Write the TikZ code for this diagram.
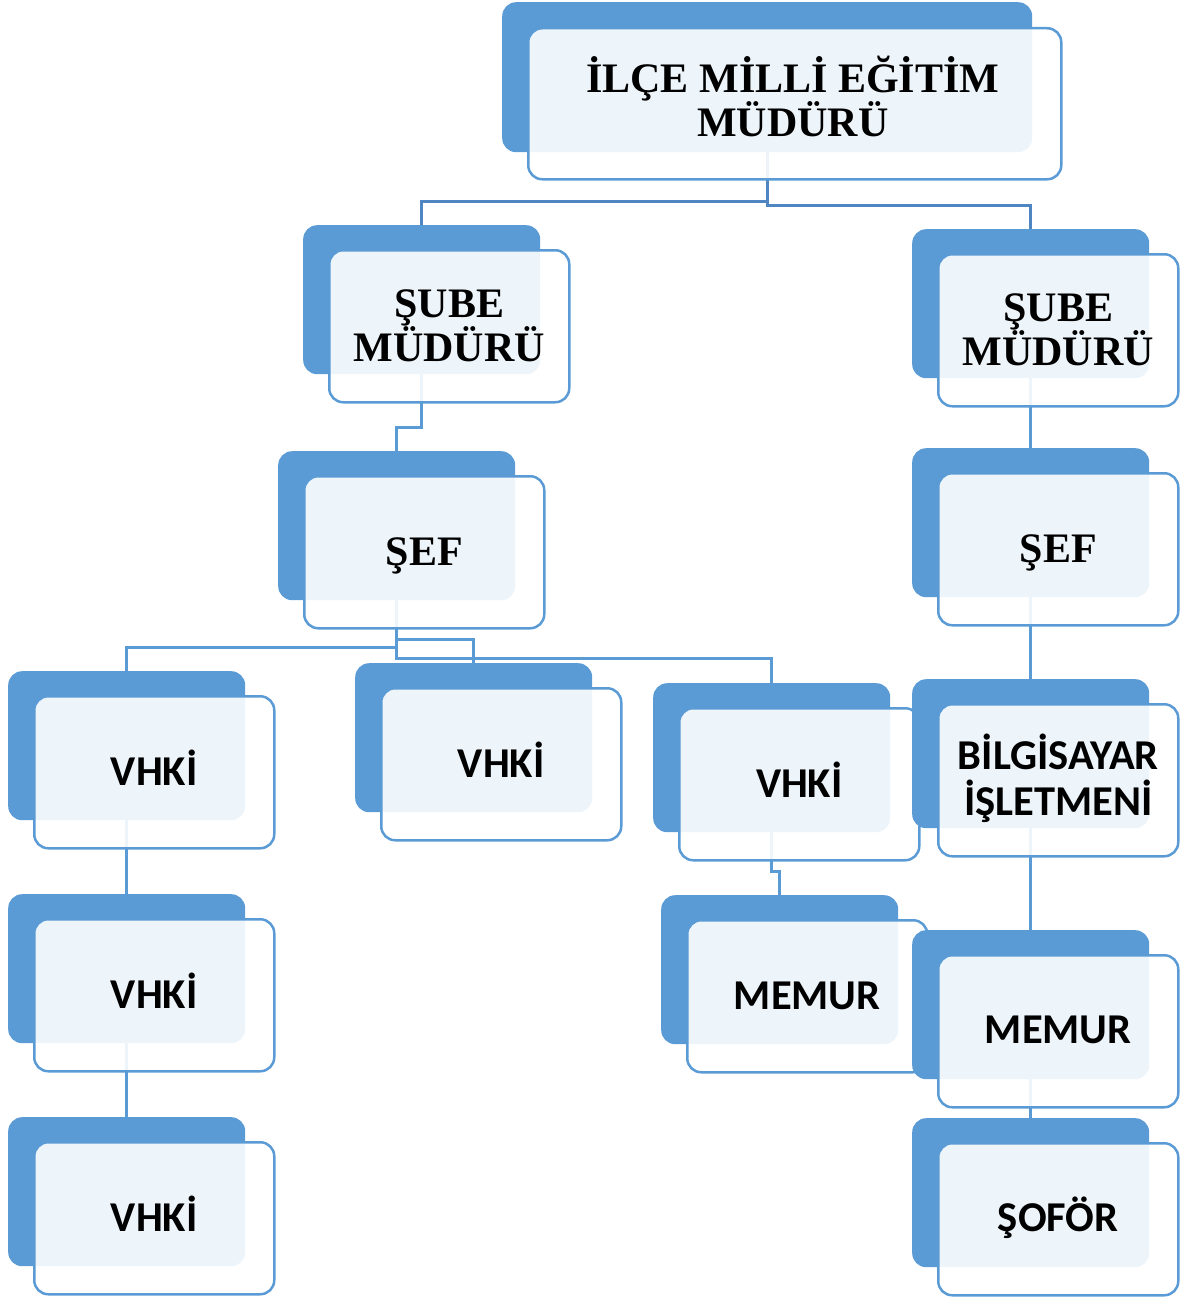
\documentclass[tikz,border=0pt]{standalone}
\usepackage{fontspec}
\newfontfamily\serifbf{Liberation Serif}
\newfontfamily\sansbf{Carlito}
\definecolor{myblue}{HTML}{5B9BD5}
\definecolor{lineblue}{HTML}{5B9BD5}
\definecolor{topline}{HTML}{4F86C2}
\pgfdeclarelayer{bg}
\pgfsetlayers{bg,main}
\tikzset{
  bluebox/.style={fill=myblue, rounded corners=14pt, minimum width=237pt, minimum height=149pt, anchor=north west, inner sep=0pt},
  frontbox/.style={draw=myblue, line width=2.5pt, fill=white, fill opacity=0.9, rounded corners=14pt, minimum width=240pt, minimum height=152pt, anchor=north west, inner sep=0pt},
  conn/.style={draw=lineblue, line width=3.2pt},
  serifstyle/.style={font=\serifbf\bfseries\fontsize{42}{44}\selectfont, align=center, inner sep=0pt},
  sansstyle/.style={font=\sansbf\bfseries\fontsize{42.5}{46}\selectfont, align=center, inner sep=0pt},
  oneline/.style={text height=27pt, text depth=0pt}
}
% name, x, y, text style, text, vertical shift of the text
\newcommand\obox[6]{%
  \node[bluebox] (b#1) at (#2,#3) {};
  \node[frontbox] (f#1) at (#2+25,#3+24) {};
  \node[#4, anchor=center] (t#1) at ([yshift=#6]f#1.center) {#5};}
\begin{document}
\begin{tikzpicture}[x=1pt,y=-1pt]
\useasboundingbox (0,0) rectangle (1182,1298);
% top box
\node[bluebox, minimum width=530pt, minimum height=150pt] (bTop) at (502,2) {};
\node[frontbox, minimum width=533pt, minimum height=151pt] (fTop) at (527,27) {};
\node[serifstyle, anchor=center] (tTop) at ([xshift=-2pt,yshift=7pt]fTop.center) {İLÇE MİLLİ EĞİTİM\\MÜDÜRÜ};
% left branch
\obox{S1}{303}{225}{serifstyle}{ŞUBE\\MÜDÜRÜ}{0pt}
\obox{F1}{278}{451}{serifstyle,oneline}{ŞEF}{0pt}
\obox{V1}{8}{671}{sansstyle,oneline}{VHKİ}{0pt}
\obox{V2}{8}{894}{sansstyle,oneline}{VHKİ}{0pt}
\obox{V3}{8}{1117}{sansstyle,oneline}{VHKİ}{0pt}
\obox{V4}{355}{663}{sansstyle,oneline}{VHKİ}{0pt}
\obox{V5}{653}{683}{sansstyle,oneline}{VHKİ}{0pt}
\obox{M1}{661}{895}{sansstyle,oneline}{MEMUR}{0pt}
% right branch
\obox{S2}{912}{229}{serifstyle}{ŞUBE\\MÜDÜRÜ}{0pt}
\obox{F2}{912}{448}{serifstyle,oneline}{ŞEF}{0pt}
\obox{B2}{912}{679}{sansstyle}{BİLGİSAYAR\\İŞLETMENİ}{2pt}
\obox{M2}{912}{930}{sansstyle,oneline}{MEMUR}{1pt}
\obox{O2}{912}{1118}{sansstyle,oneline}{ŞOFÖR}{1pt}
\begin{pgfonlayer}{bg}
\draw[conn, draw=topline] (bTop.south) -- ++(0,49) -| (bS1.north);
\draw[conn, draw=topline] (bTop.south) -- ++(0,53) -| (bS2.north);
\draw[conn] (bS1.south) -- ++(0,53) -| (bF1.north);
\draw[conn] (bF1.south) -- ++(0,47) -| (bV1.north);
\draw[conn] (bF1.south) -- ++(0,39) -| (bV4.north);
\draw[conn] (bF1.south) -- ++(0,58) -| (bV5.north);
\draw[conn] (bV1.south) -- (bV2.north);
\draw[conn] (bV2.south) -- (bV3.north);
\draw[conn] (bV5.south) -- ++(0,39) -| (bM1.north);
\draw[conn] (bS2.south) -- (bF2.north);
\draw[conn] (bF2.south) -- (bB2.north);
\draw[conn] (bB2.south) -- (bM2.north);
\draw[conn] (bM2.south) -- (bO2.north);
\end{pgfonlayer}
\end{tikzpicture}
\end{document}
